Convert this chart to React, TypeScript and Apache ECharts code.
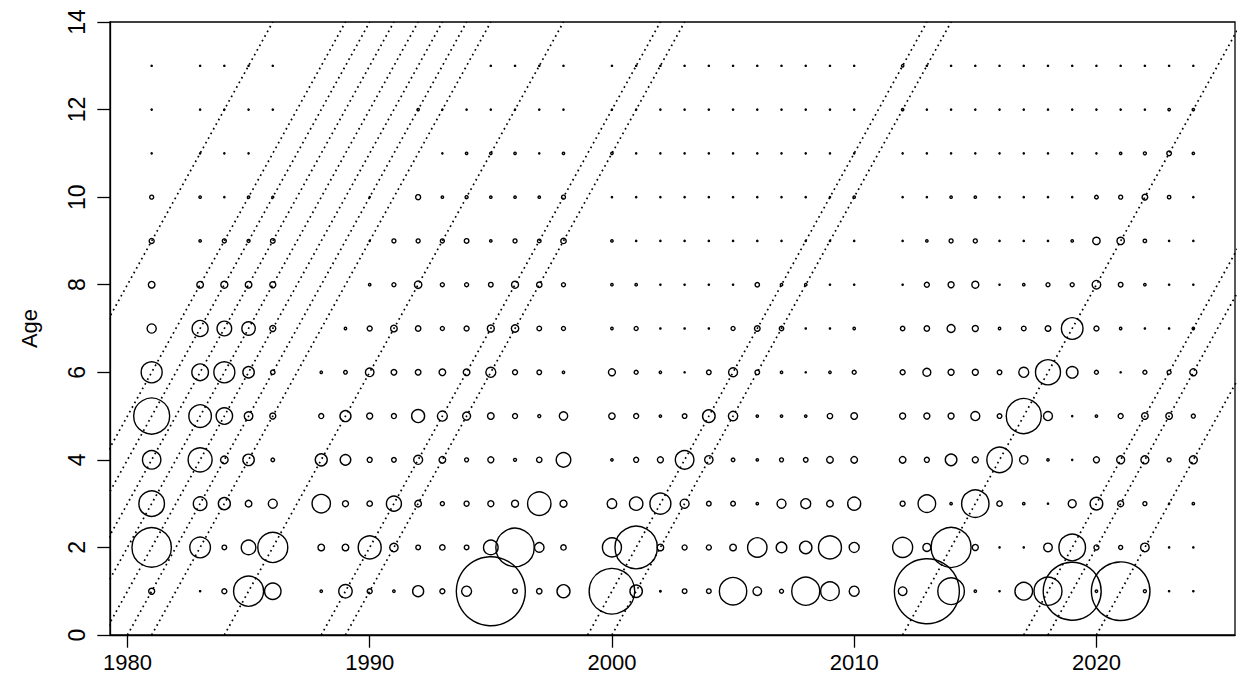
import React, { useEffect, useRef } from "react";
import * as echarts from "echarts";

// Survey years (columns of bubbles)
const YEARS = [
  1981, 1983, 1984, 1985, 1986,
  1988, 1989, 1990, 1991, 1992, 1993, 1994, 1995, 1996, 1997, 1998,
  2000, 2001, 2002, 2003, 2004, 2005, 2006, 2007, 2008, 2009, 2010,
  2012, 2013, 2014, 2015, 2016, 2017, 2018, 2019, 2020, 2021, 2022, 2023, 2024,
];

// Ages (rows of bubbles)
const AGES = [1, 2, 3, 4, 5, 6, 7, 8, 9, 10, 11, 12, 13];

// Relative abundance index (circle radius scale), one row per year, ages 1..13; 0 = no observation
const INDEX: number[][] = [
  [3, 19.7, 12.8, 9.2, 18, 10.5, 4.6, 3.3, 2.5, 2, 0.6, 0.6, 0.6], // 1981
  [0.6, 10.3, 6.8, 12, 11.3, 8.3, 8, 3.3, 1.2, 1.2, 0.6, 0.6, 0.6], // 1983
  [2.5, 2.3, 6, 3.8, 8.2, 10.5, 7.3, 3.5, 2, 0.6, 0.6, 0.6, 0.6], // 1984
  [15, 7.3, 3.3, 5.7, 4.3, 5.7, 6.7, 3.3, 1.5, 1.2, 0.6, 0.6, 0.6], // 1985
  [8.2, 15, 4.5, 1.8, 3, 2.2, 3, 3, 2.3, 1, 0, 0.6, 0.6], // 1986
  [1.2, 3.3, 9.2, 6, 2.5, 1.2, 0, 0, 0, 0, 0, 0, 0], // 1988
  [6.7, 3.3, 3, 5.3, 5.5, 1.8, 1.2, 0, 0, 0, 0, 0, 0], // 1989
  [2.5, 11.5, 2.7, 2.5, 3, 4.3, 2.5, 1.2, 0.6, 0.6, 0, 0, 0], // 1990
  [1.2, 4.2, 7.5, 2.3, 2.5, 2.8, 3.3, 2, 2, 0, 0, 0, 0], // 1991
  [5.5, 2.3, 3.3, 4.5, 6.5, 2.8, 2.7, 3.7, 2, 2.5, 0, 1.2, 0], // 1992
  [2.5, 2.7, 2, 3.3, 5, 3.3, 2, 2, 2, 1.2, 0.6, 0.6, 0], // 1993
  [5, 2.3, 2.5, 2, 4, 3.3, 2.5, 2, 2.3, 1.5, 1.2, 0.6, 0], // 1994
  [34.5, 7.3, 3, 3, 3.3, 5, 3.5, 2.3, 1.2, 1.2, 1.2, 0.6, 0.6], // 1995
  [2.3, 19.2, 3.5, 1.5, 2.5, 2.5, 3.7, 3.5, 2, 1.2, 1.2, 0.6, 0.6], // 1996
  [2.7, 4.8, 11.7, 2.7, 1.5, 2.3, 2.3, 2.7, 1.8, 1.2, 0.6, 0.6, 0.6], // 1997
  [6.5, 2.7, 3.5, 7.3, 4.2, 1.2, 2, 2, 2.7, 2, 1.2, 0.6, 0.6], // 1998
  [22.8, 9.5, 4.8, 1.2, 3.2, 3.5, 1.2, 1.2, 1.2, 0.6, 1.2, 0.6, 0.6], // 2000
  [6.2, 21.2, 6.7, 2.5, 2.5, 2, 2, 1.2, 0.6, 0.6, 0.6, 0.6, 0.6], // 2001
  [0.8, 3.3, 10.5, 3, 1.2, 1.2, 0.6, 0.6, 0.6, 0.6, 0.6, 0.6, 0.6], // 2002
  [2.3, 2.5, 4.5, 9.3, 2.3, 0.6, 0.6, 0.6, 0.6, 0.6, 0.6, 0.6, 0.6], // 2003
  [2.3, 2.5, 2.3, 4.2, 6.3, 2.3, 0.6, 0.6, 0.6, 0.6, 0.6, 0.6, 0.6], // 2004
  [13.7, 3.3, 2.3, 1.8, 4.7, 4.5, 2, 0.6, 0.6, 0.6, 0.6, 0.6, 0.6], // 2005
  [4.3, 9.7, 1.2, 1.2, 1.2, 2.3, 2.8, 2.2, 0.6, 0.6, 0.6, 0.6, 0.6], // 2006
  [2, 5.3, 4.5, 2, 1.2, 1.2, 2.2, 1.2, 0.6, 0.6, 0.6, 0.6, 0.6], // 2007
  [14, 6.2, 5, 2.3, 1.2, 0.6, 0.6, 1.2, 0.6, 0.6, 0.6, 0.6, 0.6], // 2008
  [9.3, 11.5, 3.3, 3.3, 2.7, 1.2, 0.6, 0.6, 0.6, 0.6, 0.6, 0.6, 0.6], // 2009
  [5, 5, 6.5, 3.3, 3.3, 2, 1.2, 0.6, 0.6, 1.2, 0.6, 0.6, 0.6], // 2010
  [4.3, 10, 2.5, 3.3, 3, 2.5, 2.2, 0.6, 0.6, 0.6, 0.6, 1.2, 1.2], // 2012
  [32.5, 4, 8.8, 2.5, 3, 4, 2.7, 2.5, 1.2, 0.6, 0.6, 0.6, 0.6], // 2013
  [13.3, 20, 1.2, 5.8, 3, 3, 4, 3, 2, 1.2, 0.6, 0.6, 0.6], // 2014
  [1.2, 3, 13.7, 3, 4.5, 3, 3, 3.5, 2, 1.2, 0.6, 0.6, 0.6], // 2015
  [0.6, 0.6, 2.7, 12.7, 2.3, 2.3, 1.2, 0.6, 0.6, 0.6, 0.6, 0.6, 0.6], // 2016
  [8.8, 0.6, 1.2, 4.2, 17.5, 5, 2.3, 1.2, 0.6, 0.6, 0.6, 0.6, 0.6], // 2017
  [14, 4.3, 0.6, 1.2, 4.5, 12.5, 2.8, 2, 0.6, 0.6, 0.6, 0.6, 0.6], // 2018
  [29, 13.3, 4, 0.6, 0.6, 5.8, 10.8, 2, 1.2, 0.6, 0.6, 0.6, 0.6], // 2019
  [1.2, 2.5, 6.3, 3, 1.2, 2, 2.5, 4.3, 3.7, 1.8, 0.6, 0.6, 0.6], // 2020
  [29.3, 2, 3, 4, 2.5, 0.6, 1.2, 2.3, 3.7, 2, 1.2, 0.6, 0.6], // 2021
  [1.5, 4.3, 2, 4, 3.3, 2, 0.6, 1.2, 1.7, 2.8, 1.5, 0.6, 0.6], // 2022
  [0.6, 0.6, 0.6, 2, 3.3, 2, 0.6, 0.6, 0.6, 1.7, 2.3, 1.2, 0.6], // 2023
  [0.6, 0.6, 1.2, 4, 2, 3.5, 1.2, 0.6, 0.6, 0.6, 1.2, 1.2, 0.6], // 2024
];

// Year classes followed by dotted cohort lines (age = year - cohort)
const COHORTS = [1972, 1975, 1976, 1977, 1978, 1979, 1980, 1981, 1984, 1988, 1989, 1999, 2000, 2012, 2017, 2018, 2020];

const X_TICKS = [1980, 1990, 2000, 2010, 2020];
const X_MIN = 1979.28;
const X_MAX = 2025.72;
const Y_MIN = 0;
const Y_MAX = 14;
const Y_STEP = 2;
const MAX_AGE_LINE = 14;

export default function App() {
  const ref = useRef<HTMLDivElement>(null);

  useEffect(() => {
    if (!ref.current) return;
    const chart = echarts.init(ref.current, null, { renderer: "svg" });
    const points: number[][] = [];
    YEARS.forEach((yr, i) => {
      AGES.forEach((age, j) => {
        const v = INDEX[i][j];
        if (v > 0) points.push([yr, age, v]);
      });
    });
    const font = "'Liberation Sans', Arial, Helvetica, sans-serif";
    const axisCommon = {
      splitLine: { show: false },
      axisLine: { show: true, lineStyle: { color: "#000", width: 1.3 } },
    };
    chart.setOption({
      animation: false,
      backgroundColor: "#fff",
      grid: {
        left: 110,
        right: 8,
        top: 22,
        bottom: 56,
        show: true,
        borderColor: "#000",
        borderWidth: 1.3,
        backgroundColor: "transparent",
      },
      xAxis: {
        type: "value",
        min: X_MIN,
        max: X_MAX,
        ...axisCommon,
        axisTick: { show: true, length: 12.7, customValues: X_TICKS, lineStyle: { color: "#000", width: 1.3 } },
        axisLabel: {
          customValues: X_TICKS,
          formatter: (v: number) => String(Math.round(v)),
          color: "#000",
          fontSize: 22,
          fontFamily: font,
          margin: 16,
        },
      },
      yAxis: {
        type: "value",
        min: Y_MIN,
        max: Y_MAX,
        interval: Y_STEP,
        ...axisCommon,
        axisTick: { show: true, length: 12.7, lineStyle: { color: "#000", width: 1.3 } },
        axisLabel: {
          rotate: 90,
          formatter: (v: number) => String(Math.round(v)),
          color: "#000",
          fontSize: 23,
          fontFamily: font,
          margin: 22,
        },
        name: "Age",
        nameLocation: "middle",
        nameRotate: 90,
        nameGap: 70,
        nameTextStyle: { color: "#000", fontSize: 22, fontFamily: font },
      },
      series: [
        {
          type: "scatter",
          data: points,
          symbol: "circle",
          symbolSize: (v: number[]) => v[2] * 2,
          itemStyle: { color: "rgba(0,0,0,0)", borderColor: "#000", borderWidth: 1.4, opacity: 1 },
          silent: true,
          clip: true,
          z: 2,
        },
        ...COHORTS.map((c) => ({
          type: "line",
          data: [
            [c, 0],
            [c + MAX_AGE_LINE, MAX_AGE_LINE],
          ],
          symbol: "none",
          silent: true,
          clip: true,
          lineStyle: { color: "#000", width: 1.7, type: [1.7, 3.6] },
          z: 3,
        })),
      ],
    });
    return () => chart.dispose();
  }, []);

  return (
    <div
      ref={ref}
      style={{ position: "absolute", left: 0, top: 0, width: 1243, height: 691, background: "#fff" }}
    />
  );
}
